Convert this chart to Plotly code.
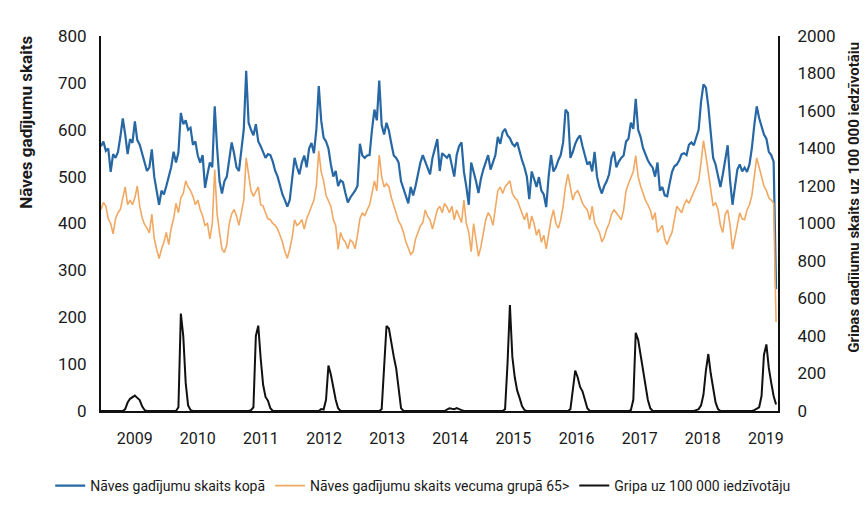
import plotly.graph_objects as go
import pandas as pd

# ---- data (fortnightly samples starting Aug 2008) ----
start_date = "2008-08-18"
step_days = 14

total_deaths = [
    565, 575, 555, 560, 510, 548, 540, 552, 585, 624, 590, 548, 580, 572, 618, 578, 568, 548, 532, 512, 520, 558, 500, 470, 440, 470,
    462, 480, 500, 520, 553, 530, 552, 636, 612, 620, 600, 604, 568, 575, 545, 530, 546, 476, 505, 530, 520, 650, 560, 490, 464, 490,
    500, 540, 573, 550, 520, 512, 553, 600, 726, 615, 600, 588, 612, 575, 565, 553, 540, 548, 546, 532, 512, 500, 478, 462, 450, 436,
    450, 500, 540, 520, 505, 530, 545, 520, 560, 572, 550, 600, 693, 620, 583, 575, 560, 526, 500, 512, 480, 492, 488, 465, 445, 455,
    462, 470, 480, 570, 545, 540, 545, 546, 600, 643, 620, 705, 610, 590, 615, 598, 570, 545, 540, 530, 490, 475, 460, 443, 478, 460,
    480, 505, 530, 546, 532, 515, 505, 540, 560, 580, 512, 550, 545, 540, 548, 525, 500, 546, 565, 573, 510, 478, 440, 530, 512, 490,
    465, 495, 515, 530, 546, 515, 530, 546, 585, 570, 595, 602, 588, 582, 570, 565, 573, 553, 535, 520, 500, 452, 511, 495, 478, 499,
    470, 462, 435, 500, 546, 511, 520, 535, 546, 573, 643, 636, 540, 553, 570, 581, 588, 565, 546, 526, 532, 511, 553, 500, 478, 464,
    480, 490, 505, 540, 553, 520, 532, 540, 545, 575, 581, 615, 602, 666, 600, 585, 561, 546, 535, 526, 519, 500, 530, 470, 478, 460,
    458, 485, 510, 522, 526, 535, 548, 550, 546, 568, 573, 567, 585, 600, 660, 697, 690, 650, 594, 540, 526, 500, 478, 505, 540, 567,
    491, 440, 478, 515, 526, 511, 519, 510, 526, 561, 610, 650, 625, 608, 590, 581, 553, 546, 532, 260,
]

deaths_65plus = [
    430, 445, 437, 410, 400, 378, 410, 423, 430, 455, 478, 440, 450, 440, 455, 480, 437, 412, 398, 390, 380, 420, 368, 345, 325, 345,
    360, 381, 355, 390, 410, 443, 423, 455, 464, 491, 478, 470, 458, 440, 450, 430, 416, 396, 400, 367, 400, 515, 420, 381, 345, 338,
    355, 400, 420, 430, 416, 396, 420, 450, 540, 500, 470, 458, 470, 478, 440, 437, 423, 410, 408, 400, 396, 388, 375, 360, 340, 326,
    345, 370, 408, 396, 400, 408, 388, 410, 423, 437, 450, 480, 555, 510, 491, 460, 450, 437, 408, 396, 345, 381, 367, 360, 346, 365,
    360, 346, 375, 410, 423, 416, 429, 440, 464, 491, 470, 546, 500, 478, 485, 478, 455, 437, 423, 405, 396, 381, 361, 346, 334, 340,
    367, 381, 395, 402, 429, 415, 408, 388, 410, 429, 437, 423, 443, 435, 423, 437, 408, 429, 415, 402, 450, 400, 381, 340, 400, 367,
    330, 350, 381, 408, 423, 415, 396, 437, 470, 478, 464, 478, 485, 491, 464, 455, 450, 437, 420, 408, 423, 388, 416, 400, 375, 388,
    360, 375, 346, 380, 408, 429, 400, 390, 408, 437, 480, 505, 478, 450, 465, 470, 458, 443, 435, 429, 408, 437, 402, 390, 381, 361,
    370, 388, 400, 420, 429, 423, 415, 408, 429, 470, 485, 500, 511, 545, 500, 480, 464, 450, 440, 429, 408, 423, 381, 390, 396, 367,
    355, 370, 381, 410, 437, 430, 423, 440, 450, 443, 455, 470, 478, 491, 530, 577, 545, 510, 470, 437, 445, 430, 396, 381, 420, 429,
    396, 345, 370, 396, 423, 410, 408, 429, 440, 460, 500, 540, 520, 500, 480, 470, 455, 450, 443, 190,
]

flu_per_100k = [
    0, 0, 0, 0, 0, 0, 0, 0, 0, 0, 10, 45, 65, 72, 82, 70, 58, 25, 5, 0, 0, 0, 0, 0, 0, 0,
    0, 0, 0, 0, 0, 0, 20, 520, 400, 150, 30, 5, 0, 0, 0, 0, 0, 0, 0, 0, 0, 0, 0, 0, 0, 0,
    0, 0, 0, 0, 0, 0, 0, 0, 0, 0, 5, 20, 400, 455, 280, 140, 75, 55, 15, 0, 0, 0, 0, 0, 0, 0,
    0, 0, 0, 0, 0, 0, 0, 0, 0, 0, 0, 0, 0, 10, 8, 60, 242, 195, 120, 60, 15, 0, 0, 0, 0, 0,
    0, 0, 0, 0, 0, 0, 0, 0, 0, 0, 0, 0, 10, 250, 453, 440, 360, 290, 227, 110, 15, 0, 0, 0, 0, 0,
    0, 0, 0, 0, 0, 0, 0, 0, 0, 0, 0, 0, 0, 8, 15, 12, 10, 15, 8, 5, 0, 0, 0, 0, 0, 0,
    0, 0, 0, 0, 0, 0, 0, 0, 0, 0, 0, 10, 250, 565, 290, 180, 110, 70, 26, 5, 0, 0, 0, 0, 0, 0,
    0, 0, 0, 0, 0, 0, 0, 0, 0, 0, 0, 0, 10, 120, 216, 180, 128, 105, 62, 15, 0, 0, 0, 0, 0, 0,
    0, 0, 0, 0, 0, 0, 0, 0, 0, 0, 0, 5, 60, 417, 380, 300, 220, 139, 60, 15, 0, 0, 0, 0, 0, 0,
    0, 0, 0, 0, 0, 0, 0, 0, 0, 0, 0, 0, 5, 10, 30, 88, 216, 304, 200, 129, 46, 10, 0, 0, 0, 0,
    0, 0, 0, 0, 0, 0, 0, 0, 0, 0, 5, 15, 20, 80, 300, 355, 230, 150, 80, 35,
]

year_labels = ["2009", "2010", "2011", "2012", "2013", "2014", "2015", "2016", "2017", "2018", "2019"]

series_names = [
    "Nāves gadījumu skaits kopā",
    "Nāves gadījumu skaits vecuma grupā 65>",
    "Gripa uz 100 000 iedzīvotāju",
]
left_title = "Nāves gadījumu skaits"
right_title = "Gripas gadījumu skaits uz 100 000 iedzīvotāju"

# ---- figure ----
dates = pd.date_range(start_date, periods=len(total_deaths), freq=f"{step_days}D")
x_end = pd.Timestamp(start_date) + pd.Timedelta(days=step_days * (len(total_deaths) - 0.2))
tick_dates = [f"{y}-03-01" for y in year_labels]

FONT = "Roboto, Liberation Sans, sans-serif"


def f(size, bold=False):
    d = dict(family=FONT, size=size, color="#1a1a1a")
    if bold:
        d["weight"] = "bold"
    return d


fig = go.Figure()
fig.add_trace(go.Scatter(x=dates, y=total_deaths, name=series_names[0], mode="lines",
                         line=dict(color="#2767a3", width=2.2)))
fig.add_trace(go.Scatter(x=dates, y=deaths_65plus, name=series_names[1], mode="lines",
                         line=dict(color="#f0a862", width=1.6)))
fig.add_trace(go.Scatter(x=dates, y=flu_per_100k, name=series_names[2], mode="lines",
                         line=dict(color="#111111", width=2), yaxis="y2"))

fig.update_layout(
    width=867, height=506,
    margin=dict(l=93, r=97, t=28, b=88),
    paper_bgcolor="white", plot_bgcolor="white",
    font=f(16),
    showlegend=True,
    xaxis=dict(type="date", range=[dates[0], x_end], tickvals=tick_dates, ticktext=year_labels,
               showgrid=False, zeroline=False, showline=True, linecolor="#111111", linewidth=2,
               ticks="", tickfont=f(16), ticklabelstandoff=12),
    yaxis=dict(range=[0, 800], dtick=100, showgrid=False, zeroline=False, showline=True,
               linecolor="#111111", linewidth=2, ticks="", tickfont=f(17),
               ticklabelstandoff=9),
    yaxis2=dict(range=[0, 2000], dtick=200, overlaying="y", side="right", showgrid=False,
                zeroline=False, showline=True, linecolor="#111111", linewidth=2, ticks="",
                tickfont=f(17), ticklabelstandoff=14),
    legend=dict(orientation="h", x=-0.075, y=-0.2, xanchor="left", yanchor="middle",
                font=f(14), itemwidth=30, bgcolor="rgba(0,0,0,0)"),
    annotations=[
        dict(text=left_title, xref="paper", yref="paper", x=-0.11, y=0.77,
             textangle=-90, showarrow=False, font=f(17, True),
             xanchor="center", yanchor="middle"),
        dict(text=right_title, xref="paper", yref="paper", x=1.113, y=0.57,
             textangle=-90, showarrow=False, font=f(15, True),
             xanchor="center", yanchor="middle"),
    ],
)

fig.write_html("out.html")
